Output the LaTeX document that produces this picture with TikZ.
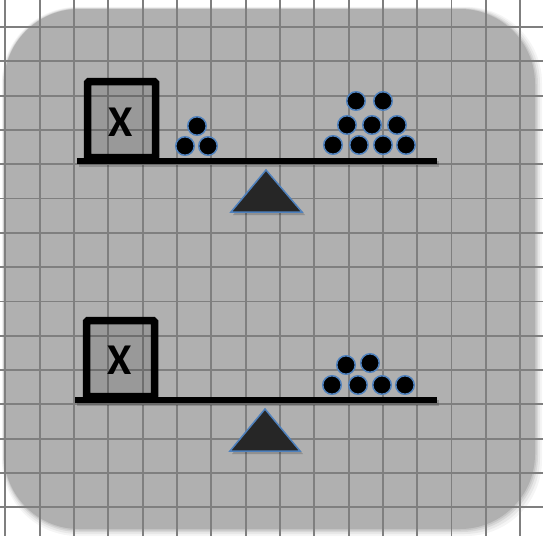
\documentclass[tikz,border=0pt]{standalone}
\usepackage{fontspec}
\setmainfont{Carlito}
\definecolor{panelgray}{HTML}{B0B0B0}
\definecolor{gridgray}{HTML}{7F7F7F}
\definecolor{edgeblue}{HTML}{4F81BD}
\definecolor{fulcrumfill}{HTML}{262626}
\tikzset{
  gridline/.style={draw=gridgray,line width=1.8pt},
  xbox/.style={draw=black,line width=7.5pt,fill=black,fill opacity=0.13,draw opacity=1,
    text opacity=1,minimum width=68pt,minimum height=76pt,inner sep=0pt,rounded corners=1.5pt},
  xlabel/.style={font=\fontsize{44}{44}\selectfont\bfseries,inner sep=0pt},
  beam/.style={line width=5.5pt,black},
  ball/.style={circle,fill=black,draw=edgeblue,line width=1.5pt,minimum size=18.5pt,inner sep=0pt},
  fulcrum/.style={fill=fulcrumfill,draw=edgeblue,line width=1.5pt,line join=miter},
  softshadow/.style={black,opacity=0.18}
}
\begin{document}
\begin{tikzpicture}[x=1pt,y=-1pt]
\useasboundingbox (0,0) rectangle (543,536);
\fill[white] (0,0) rectangle (543,536);
% panel shadow
\foreach \o/\a in {7/0.04,5/0.05,3/0.07,1.5/0.08}
  \fill[black,opacity=\a,rounded corners=76pt] (4-0.3*\o,9-0.3*\o) rectangle (535+\o,529+\o);
% panel
\fill[panelgray,rounded corners=75pt] (4,9) rectangle (535,529);
% grid
\foreach \i in {0,...,15} \draw[gridline] ({5.3+34.33*\i},0) -- ({5.3+34.33*\i},536);
\foreach \j in {0,...,14} \draw[gridline] (0,{27+34.3*\j}) -- (543,{27+34.3*\j});

% ---------- top scale ----------
\draw[beam,softshadow] (79,164) -- (439,164);
\fill[softshadow] (268,173) -- (305,215) -- (233,215) -- cycle;
\node[xbox] (box1) at (121.5,119.5) {};
\node[xlabel] (x1) at (121,122) {X};
\draw[beam] (77,161) -- (437,161);
\filldraw[fulcrum] (266,170) -- (302,212) -- (231,212) -- cycle;
\node[ball] (a1) at (185,146) {};
\node[ball] (a2) at (208,146) {};
\node[ball] (a3) at (197,126) {};
\node[ball] (b1) at (333,145) {};
\node[ball] (b2) at (359,145) {};
\node[ball] (b3) at (383,145) {};
\node[ball] (b4) at (406,145) {};
\node[ball] (b5) at (347,125) {};
\node[ball] (b6) at (372,125) {};
\node[ball] (b7) at (397,125) {};
\node[ball] (b8) at (356,101) {};
\node[ball] (b9) at (383,101) {};

% ---------- bottom scale ----------
\draw[beam,softshadow] (77,403) -- (439,403);
\fill[softshadow] (267,412) -- (303,454) -- (232,454) -- cycle;
\node[xbox] (box2) at (120.5,358.5) {};
\node[xlabel] (x2) at (120,360) {X};
\draw[beam] (75,400) -- (437,400);
\filldraw[fulcrum] (265,409) -- (300,451) -- (230,451) -- cycle;
\node[ball] (c1) at (332,385) {};
\node[ball] (c2) at (358,385) {};
\node[ball] (c3) at (382,385) {};
\node[ball] (c4) at (405,385) {};
\node[ball] (c5) at (346,365) {};
\node[ball] (c6) at (370,363) {};
\end{tikzpicture}
\end{document}
